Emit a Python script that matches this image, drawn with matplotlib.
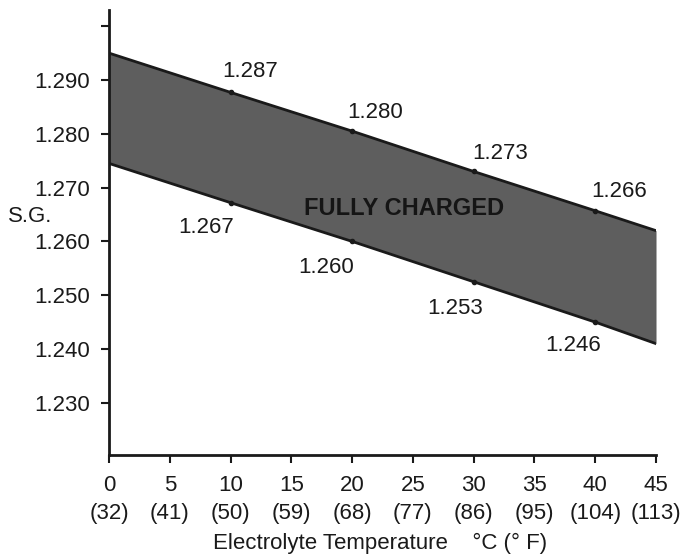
import numpy as np
import matplotlib.pyplot as plt

# data
temp_c = [0, 10, 20, 30, 40, 45]
upper_sg = [1.2950, 1.2877, 1.2805, 1.2730, 1.2657, 1.2620]
lower_sg = [1.2745, 1.2672, 1.2600, 1.2525, 1.2450, 1.2410]

marked_temp = [10, 20, 30, 40]
upper_labels = ['1.287', '1.280', '1.273', '1.266']
lower_labels = ['1.267', '1.260', '1.253', '1.246']

x_ticks = [0, 5, 10, 15, 20, 25, 30, 35, 40, 45]
x_tick_f = [32, 41, 50, 59, 68, 77, 86, 95, 104, 113]
y_ticks = [1.230, 1.240, 1.250, 1.260, 1.270, 1.280, 1.290, 1.300]

plt.rcParams['font.family'] = ['Liberation Sans', 'DejaVu Sans']
ink = '#1a1a1a'
fs = 16

fig = plt.figure(figsize=(6.87, 5.59), dpi=100)
ax = fig.add_axes([0.1587, 0.186, 0.7962, 0.796])

# band + edges
ax.fill_between(temp_c, lower_sg, upper_sg, color='#5e5e5e', lw=0, zorder=1)
ax.plot(temp_c, upper_sg, color=ink, lw=2, zorder=2)
ax.plot(temp_c, lower_sg, color=ink, lw=2, zorder=2)
ax.plot([45, 45], [lower_sg[-1], upper_sg[-1]], color='#555555', lw=1, zorder=2)

up_pts = np.interp(marked_temp, temp_c, upper_sg)
lo_pts = np.interp(marked_temp, temp_c, lower_sg)
ax.plot(marked_temp, up_pts, 'o', ms=3, color=ink, zorder=3)
ax.plot(marked_temp, lo_pts, 'o', ms=3, color=ink, zorder=3)

# value labels (offset from points)
up_pos = [(11.6, 1.2915), (21.9, 1.2839), (32.2, 1.2763), (42.0, 1.2692)]
lo_pos = [(8.0, 1.2625), (17.9, 1.2551), (28.5, 1.2475), (38.2, 1.2406)]
for (x, y), t in zip(up_pos, upper_labels):
    ax.text(x, y, t, ha='center', va='center', fontsize=fs, color=ink)
for (x, y), t in zip(lo_pos, lower_labels):
    ax.text(x, y, t, ha='center', va='center', fontsize=fs, color=ink)

ax.text(24.3, 1.2662, 'FULLY CHARGED', ha='center', va='center',
        fontsize=17, fontweight='bold', color='#151515', zorder=4)

ax.set_xlim(0, 45)
ax.set_ylim(1.2203, 1.3030)
ax.set_xticks(x_ticks)
ax.set_xticklabels([str(c) for c in x_ticks], fontsize=fs, color=ink)
# fahrenheit row under the celsius labels
for c, f in zip(x_ticks, x_tick_f):
    ax.annotate(f'({f})', xy=(c, 0), xycoords=('data', 'axes fraction'),
                xytext=(0, -58), textcoords='offset pixels',
                ha='center', va='center', fontsize=fs, color=ink,
                annotation_clip=False)
ax.set_yticks(y_ticks)
ax.set_yticklabels([f'{v:.3f}' for v in y_ticks[:-1]] + [''], fontsize=fs, color=ink)
ax.tick_params(axis='both', length=6, width=1.5, color=ink)
ax.tick_params(axis='y', pad=8)
ax.tick_params(axis='x', pad=8.5)

for s in ['top', 'right']:
    ax.spines[s].set_visible(False)
for s in ['left', 'bottom']:
    ax.spines[s].set_linewidth(2)
    ax.spines[s].set_color(ink)

ax.text(-0.145, 0.537, 'S.G.', transform=ax.transAxes, ha='center', va='center',
        fontsize=fs, color=ink)
fig.text(0.553, 0.0286, 'Electrolyte Temperature    °C (° F)', ha='center', va='center',
         fontsize=fs, color=ink)

fig.savefig('out.png', dpi=100)
